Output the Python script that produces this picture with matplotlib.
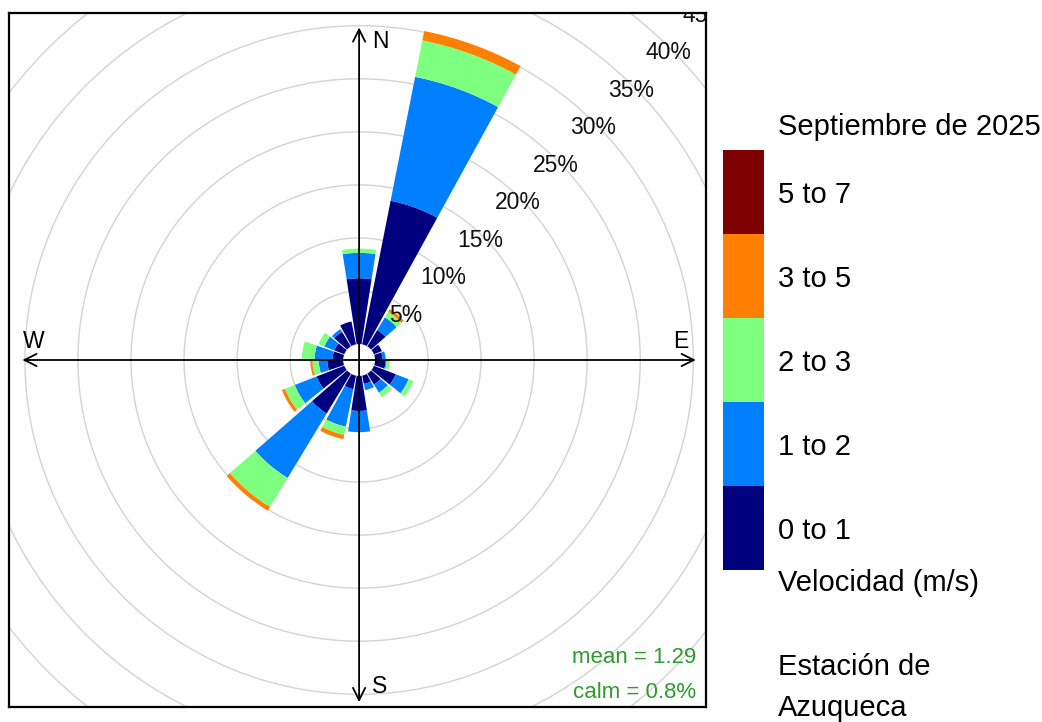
import matplotlib
matplotlib.use("Agg")
import matplotlib.pyplot as plt
from matplotlib.patches import Wedge, Circle
import numpy as np

plt.rcParams["font.family"] = ["Liberation Sans", "DejaVu Sans"]

# wind direction bins (degrees from north) and frequency (%) per speed class
directions = [0, 20, 40, 60, 80, 100, 120, 140, 160, 180, 200, 220, 240, 260, 280, 300, 320, 340]
ws_0_1 = [6.2, 13.8, 1.8, 0.8, 0.7, 1.0, 2.2, 1.2, 0.8, 3.3, 1.3, 4.4, 2.8, 1.5, 1.0, 1.0, 1.6, 2.2]
ws_1_2 = [2.4, 11.9, 1.4, 0.0, 0.3, 0.1, 1.3, 0.9, 0.6, 2.0, 3.6, 7.1, 2.2, 0.8, 1.7, 1.0, 0.3, 0.0]
ws_2_3 = [0.4, 3.5, 0.6, 0.0, 0.0, 0.3, 0.5, 0.5, 0.0, 0.0, 0.8, 3.2, 1.0, 0.6, 1.2, 0.6, 0.0, 0.0]
ws_3_5 = [0.0, 0.9, 0.3, 0.0, 0.0, 0.0, 0.0, 0.0, 0.0, 0.0, 0.4, 0.4, 0.3, 0.2, 0.0, 0.0, 0.0, 0.0]
ws_5_7 = [0.0] * 18

speed_labels = ["0 to 1", "1 to 2", "2 to 3", "3 to 5", "5 to 7"]
speed_colors = ["#00007F", "#007FFF", "#7FFF7F", "#FF7F00", "#7F0000"]
ring_levels = [5, 10, 15, 20, 25, 30, 35, 40, 45]
mean_ws = 1.29
calm_pct = 0.8

OFFSET = 1.5      # inner hole radius (same units as %)
HALF_WIDTH = 8.8  # half angular width of each spoke

fig = plt.figure(figsize=(10.42, 7.22), dpi=100)
W, H = 1042, 722
ax = fig.add_axes([9 / W, (H - 707) / H, 697 / W, 694 / H])
ax.set_xlim(-33.0, 32.7)
ax.set_ylim(-32.7, 32.7)
ax.set_xticks([])
ax.set_yticks([])
for sp in ax.spines.values():
    sp.set_linewidth(1.6)
    sp.set_color("black")

# grid rings
for p in ring_levels:
    ax.add_patch(Circle((0, 0), OFFSET + p, fill=False, edgecolor="#d3d3d3", lw=1.0, zorder=1))

# spokes
series = [ws_0_1, ws_1_2, ws_2_3, ws_3_5, ws_5_7]
for i, d in enumerate(directions):
    lo = 0.0
    ang = 90 - d
    for vals, col in zip(series, speed_colors):
        v = vals[i]
        if v <= 0:
            continue
        hi = lo + v
        ax.add_patch(Wedge((0, 0), OFFSET + hi, ang - HALF_WIDTH, ang + HALF_WIDTH,
                           width=v, facecolor=col, edgecolor="none", zorder=2))
        lo = hi

# ring labels along 45 degrees
for p in ring_levels:
    r = OFFSET + p
    ax.text(r * np.cos(np.pi / 4) - 0.2, r * np.sin(np.pi / 4) - 0.4, f"{p}%", ha="center", va="center",
            fontsize=16.5, color="#111111", zorder=4, clip_on=True)

# compass axes
arrow = dict(arrowstyle="<->", color="black", lw=1.3, mutation_scale=22)
ax.annotate("", xy=(0, 31.6), xytext=(0, -32.5), arrowprops=arrow, zorder=3)
ax.annotate("", xy=(32.0, 0), xytext=(-32.0, 0), arrowprops=arrow, zorder=3)
ax.text(1.2, 30.0, "N", fontsize=16.5, ha="left", va="center", zorder=4)
ax.text(1.2, -30.8, "S", fontsize=16.5, ha="left", va="center", zorder=4)
ax.text(-31.7, 1.7, "W", fontsize=16.5, ha="left", va="center", zorder=4)
ax.text(29.6, 1.7, "E", fontsize=16.5, ha="left", va="center", zorder=4)

ax.text(31.8, -28.0, f"mean = {mean_ws}", fontsize=16, color="#2e9b2e", ha="right", va="center")
ax.text(31.8, -31.3, f"calm = {calm_pct}%", fontsize=16, color="#2e9b2e", ha="right", va="center")

# colour key
key = fig.add_axes([723 / W, (H - 569.5) / H, 41 / W, 419.5 / H])
for i, col in enumerate(speed_colors):
    key.bar(0, 1, bottom=i, width=1, color=col)
key.set_xlim(-0.5, 0.5)
key.set_ylim(0, len(speed_colors))
key.axis("off")
for i, lab in enumerate(speed_labels):
    y_px = 569.5 - (i + 0.5) * 83.9 + 3
    fig.text(778 / W, 1 - y_px / H, lab, fontsize=21, ha="left", va="center")

fig.text(778 / W, 1 - 127 / H, "Septiembre de 2025", fontsize=21, ha="left", va="center")
fig.text(778 / W, 1 - 583 / H, "Velocidad (m/s)", fontsize=21, ha="left", va="center")
fig.text(778 / W, 1 - 667 / H, "Estación de", fontsize=21, ha="left", va="center")
fig.text(778 / W, 1 - 708 / H, "Azuqueca", fontsize=21, ha="left", va="center")

fig.savefig("out.png", dpi=100)
